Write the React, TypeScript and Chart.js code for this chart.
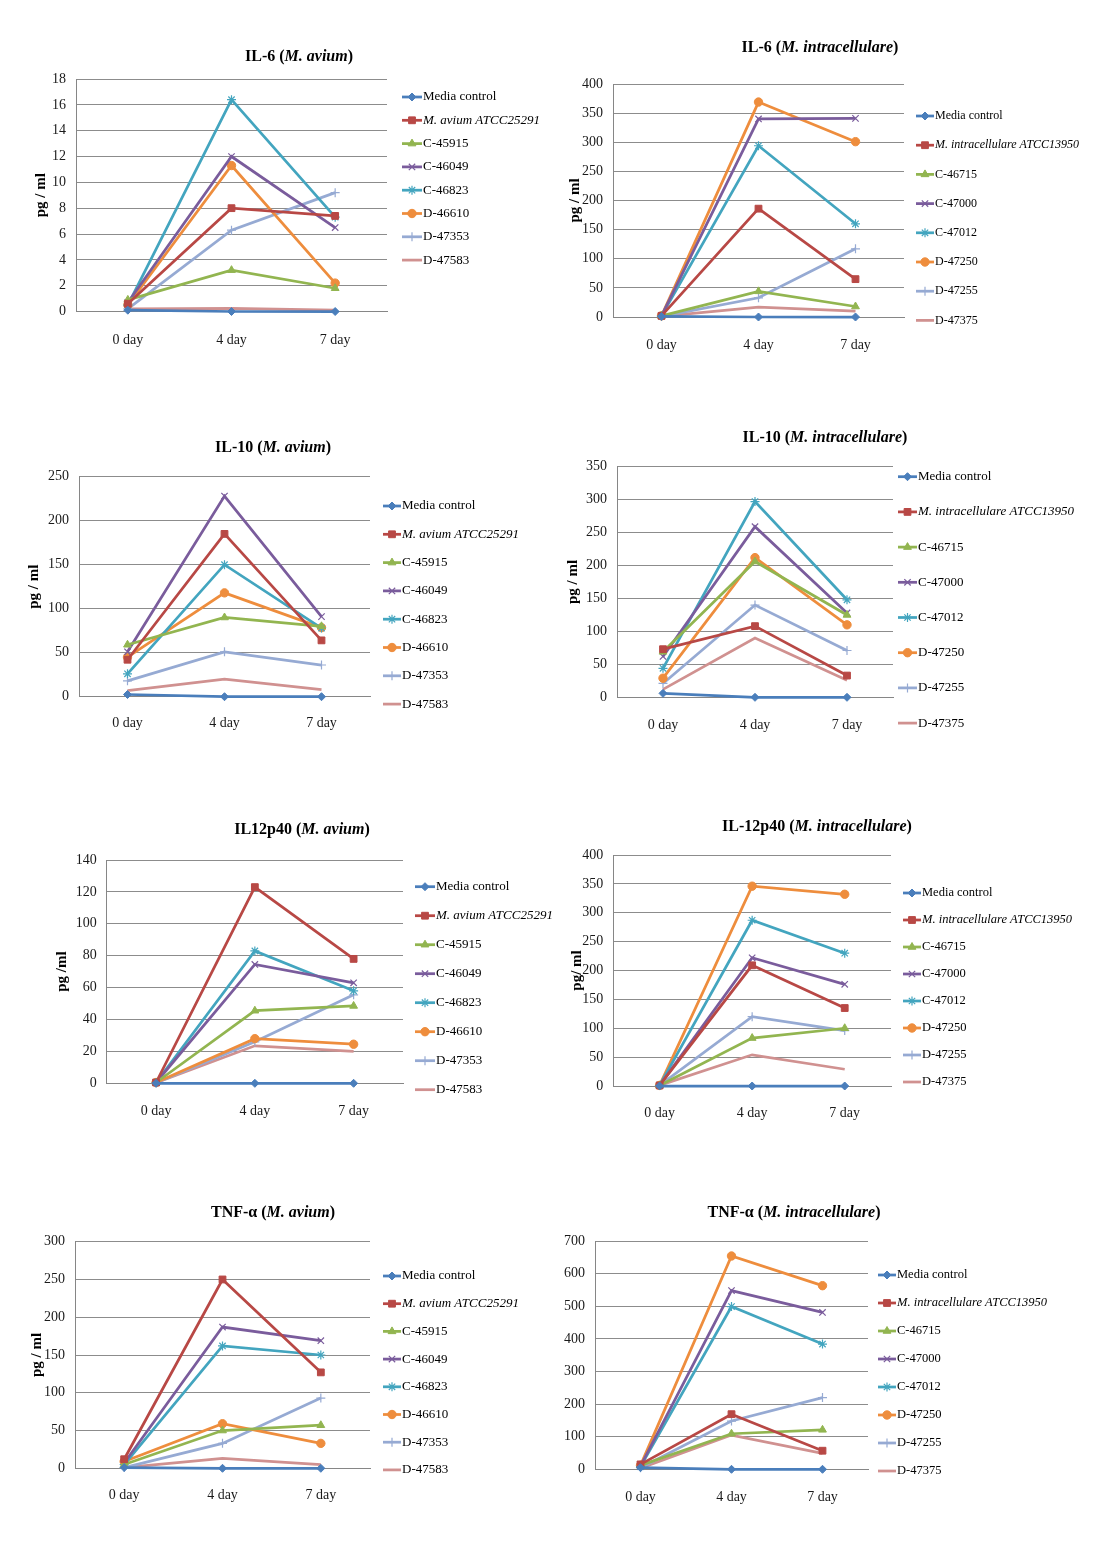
import React, { useEffect, useRef } from 'react';
import { Chart, registerables } from 'chart.js';
import { drawPoint } from 'chart.js/helpers';

Chart.register(...registerables);

// ---------------- data ----------------
const CATEGORIES = ['0 day', '4 day', '7 day'];

const AVIUM_STRAINS = ['Media control', 'M. avium ATCC25291', 'C-45915', 'C-46049', 'C-46823', 'D-46610', 'D-47353', 'D-47583'];
const INTRA_STRAINS = ['Media control', 'M. intracellulare ATCC13950', 'C-46715', 'C-47000', 'C-47012', 'D-47250', 'D-47255', 'D-47375'];

// rows: media, ATCC, C1, C2, C3, D1, D2, D3 ; columns: 0 day, 4 day, 7 day
const IL6_AVIUM = [
  [0.1, 0, 0],
  [0.6, 8.0, 7.4],
  [0.9, 3.2, 1.8],
  [0.7, 12.0, 6.5],
  [0.5, 16.4, 7.3],
  [0.5, 11.3, 2.2],
  [0.2, 6.3, 9.2],
  [0.2, 0.25, 0.1],
];
const IL6_INTRA = [
  [1, 0, 0],
  [2, 186, 65],
  [2, 44, 18],
  [2, 340, 341],
  [2, 294, 160],
  [2, 369, 301],
  [1, 33, 117],
  [1, 17, 10],
];
const IL10_AVIUM = [
  [2.5, 0, 0],
  [42, 185, 64],
  [59, 90, 80],
  [51, 228, 91],
  [26, 150, 78],
  [45, 118, 78.5],
  [18, 51, 36],
  [7, 20, 8],
];
const IL10_INTRA = [
  [6, 0, 0],
  [73, 108, 33],
  [69, 206, 125],
  [62, 259, 128],
  [44, 297, 148],
  [29, 212, 110],
  [21, 140, 71],
  [12, 90, 26],
];
const IL12_AVIUM = [
  [0, 0, 0],
  [0.5, 123, 78],
  [0.5, 45.5, 48.5],
  [0.5, 74.5, 63],
  [0.5, 83, 58],
  [0.5, 28, 24.5],
  [0.3, 26, 55.5],
  [0.3, 23.5, 20],
];
const IL12_INTRA = [
  [0, 0, 0],
  [1, 209, 135],
  [1, 83, 100],
  [1, 222, 176],
  [1, 287, 230],
  [1, 346, 332],
  [1, 120, 96],
  [1, 54, 29],
];
const TNF_AVIUM = [
  [1, 0, 0],
  [12, 250, 127],
  [5, 50, 57],
  [7, 187, 169],
  [5, 162, 150],
  [9, 59, 33],
  [1, 33, 93],
  [1, 13, 5],
];
const TNF_INTRA = [
  [5, 0, 0],
  [15, 169, 57],
  [12, 109, 121],
  [10, 548, 481],
  [8, 499, 384],
  [12, 654, 563],
  [5, 148, 220],
  [3, 105, 49],
];

// ---------------- styles ----------------
const SERIF = '"Liberation Serif", "Times New Roman", "DejaVu Serif", serif';
const COLORS = ['#4A7EBB', '#B84845', '#92B550', '#7A5C9C', '#43A5BF', '#EE8D3D', '#96AAD3', '#D09190'];
const MARKERS: any[] = ['rectRot', 'rect', 'triangle', 'crossRot', 'star', 'circle', 'cross', false];
const RADII = [4, 4.8, 4.5, 4.5, 4.5, 4.2, 4.5, 0];
const MARKER_BORDER = [1, 1, 1, 1.2, 1.2, 1, 1.2, 0];
const GRID = '#8C8C8C';
const AXIS = '#868686';
const TEXT = '#1a1a1a';

type PanelCfg = {
  data: number[][];
  strains: string[];
  title: string;
  org: string;
  yTitle: string;
  max: number;
  step: number;
  box: number[]; // canvas x, y, w, h (page coords)
  area: number[]; // plot left, top, right, bottom (page coords)
  labelY: number;
  titlePos: number[];
  yTitleX: number;
  legend: { mx: number; len: number; y0: number; dy: number; size: number };
};

const PANELS: PanelCfg[] = [
  {
    data: IL6_AVIUM, strains: AVIUM_STRAINS, title: 'IL-6', org: 'M. avium', yTitle: 'pg / ml',
    max: 18, step: 2, box: [0, 20, 560, 360], area: [76, 79, 387, 311.5], labelY: 340,
    titlePos: [299, 57], yTitleX: 41,
    legend: { mx: 402, len: 20, y0: 97, dy: 23.3, size: 13 },
  },
  {
    data: IL6_INTRA, strains: INTRA_STRAINS, title: 'IL-6', org: 'M. intracellulare', yTitle: 'pg / ml',
    max: 400, step: 50, box: [560, 20, 560, 360], area: [613, 84, 904, 317], labelY: 345,
    titlePos: [820, 48], yTitleX: 575,
    legend: { mx: 916, len: 18, y0: 116, dy: 29.2, size: 12 },
  },
  {
    data: IL10_AVIUM, strains: AVIUM_STRAINS, title: 'IL-10', org: 'M. avium', yTitle: 'pg / ml',
    max: 250, step: 50, box: [0, 400, 560, 360], area: [79, 476.7, 370, 696.7], labelY: 723,
    titlePos: [273, 448], yTitleX: 34,
    legend: { mx: 383, len: 18, y0: 506, dy: 28.3, size: 13 },
  },
  {
    data: IL10_INTRA, strains: INTRA_STRAINS, title: 'IL-10', org: 'M. intracellulare', yTitle: 'pg / ml',
    max: 350, step: 50, box: [560, 400, 560, 360], area: [617, 466.7, 893, 697.3], labelY: 725,
    titlePos: [825, 438], yTitleX: 573,
    legend: { mx: 898, len: 19, y0: 476.7, dy: 35.2, size: 13 },
  },
  {
    data: IL12_AVIUM, strains: AVIUM_STRAINS, title: 'IL12p40', org: 'M. avium', yTitle: 'pg /ml',
    max: 140, step: 20, box: [0, 790, 560, 350], area: [106.7, 860, 403, 1083.3], labelY: 1111,
    titlePos: [302, 830], yTitleX: 62,
    legend: { mx: 415, len: 20, y0: 886.7, dy: 29, size: 13 },
  },
  {
    data: IL12_INTRA, strains: INTRA_STRAINS, title: 'IL-12p40', org: 'M. intracellulare', yTitle: 'pg/ ml',
    max: 400, step: 50, box: [560, 790, 560, 350], area: [613.3, 855, 891, 1086], labelY: 1113,
    titlePos: [817, 827], yTitleX: 577,
    legend: { mx: 903, len: 18, y0: 893, dy: 27, size: 12.5 },
  },
  {
    data: TNF_AVIUM, strains: AVIUM_STRAINS, title: 'TNF-α', org: 'M. avium', yTitle: 'pg / ml',
    max: 300, step: 50, box: [0, 1180, 560, 360], area: [75, 1241.7, 370, 1468.3], labelY: 1495,
    titlePos: [273, 1213], yTitleX: 37,
    legend: { mx: 383, len: 18, y0: 1276, dy: 27.7, size: 13 },
  },
  {
    data: TNF_INTRA, strains: INTRA_STRAINS, title: 'TNF-α', org: 'M. intracellulare', yTitle: 'pg / ml',
    max: 700, step: 100, box: [560, 1180, 560, 360], area: [595, 1241, 868, 1469.3], labelY: 1497,
    titlePos: [794, 1213], yTitleX: 553,
    legend: { mx: 878, len: 18, y0: 1275, dy: 28, size: 12.5 },
  },
];

type Part = { t: string; i: boolean };

function drawRich(ctx: CanvasRenderingContext2D, parts: Part[], x: number, y: number, weight: string, size: number, align: 'left' | 'center') {
  const fontOf = (p: Part) => `${p.i ? 'italic ' : ''}${weight} ${size}px ${SERIF}`;
  let total = 0;
  const widths = parts.map((p) => {
    ctx.font = fontOf(p);
    const w = ctx.measureText(p.t).width;
    total += w;
    return w;
  });
  let cx = align === 'center' ? x - total / 2 : x;
  ctx.textAlign = 'left';
  ctx.textBaseline = 'middle';
  ctx.fillStyle = '#000';
  parts.forEach((p, k) => {
    ctx.font = fontOf(p);
    ctx.fillText(p.t, cx, y);
    cx += widths[k];
  });
}

function decoPlugin(cfg: PanelCfg) {
  return {
    id: 'deco',
    afterDraw(chart: any) {
      const ctx: CanvasRenderingContext2D = chart.ctx;
      const [cx, cy] = cfg.box;
      const [, T, , B] = cfg.area;
      ctx.save();
      ctx.translate(-cx, -cy);

      // title
      drawRich(
        ctx,
        [
          { t: cfg.title + ' (', i: false },
          { t: cfg.org, i: true },
          { t: ')', i: false },
        ],
        cfg.titlePos[0], cfg.titlePos[1], 'bold', 16, 'center'
      );

      // y axis title
      ctx.save();
      ctx.translate(cfg.yTitleX, (T + B) / 2);
      ctx.rotate(-Math.PI / 2);
      ctx.font = `bold 15px ${SERIF}`;
      ctx.textAlign = 'center';
      ctx.textBaseline = 'middle';
      ctx.fillStyle = '#000';
      ctx.fillText(cfg.yTitle, 0, 0);
      ctx.restore();

      // legend
      const lg = cfg.legend;
      chart.data.datasets.forEach((ds: any, i: number) => {
        const y = lg.y0 + i * lg.dy;
        ctx.save();
        ctx.strokeStyle = ds.borderColor;
        ctx.lineWidth = 2.75;
        ctx.beginPath();
        ctx.moveTo(lg.mx, y);
        ctx.lineTo(lg.mx + lg.len, y);
        ctx.stroke();
        if (MARKERS[i]) {
          ctx.fillStyle = ds.borderColor;
          ctx.strokeStyle = ds.borderColor;
          ctx.lineWidth = MARKER_BORDER[i];
          drawPoint(ctx, { pointStyle: MARKERS[i], rotation: 0, radius: RADII[i], borderWidth: MARKER_BORDER[i] } as any, lg.mx + lg.len / 2, y);
        }
        ctx.restore();
        drawRich(ctx, [{ t: cfg.strains[i], i: i === 1 }], lg.mx + lg.len + 1, y, 'normal', lg.size, 'left');
      });

      ctx.restore();
    },
  };
}

function Panel({ cfg }: { cfg: PanelCfg }) {
  const ref = useRef<HTMLCanvasElement>(null);
  const [cx, cy, W, H] = cfg.box;
  useEffect(() => {
    const [L, T, R, B] = cfg.area;
    const chart = new Chart(ref.current as HTMLCanvasElement, {
      type: 'line',
      data: {
        labels: CATEGORIES,
        datasets: cfg.data.map((vals, i) => ({
          label: cfg.strains[i],
          data: vals,
          borderColor: COLORS[i],
          backgroundColor: COLORS[i],
          pointBackgroundColor: COLORS[i],
          pointBorderColor: COLORS[i],
          pointStyle: MARKERS[i],
          pointRadius: RADII[i],
          pointBorderWidth: MARKER_BORDER[i],
          borderWidth: 2.75,
          tension: 0,
          fill: false,
          clip: false as any,
        })),
      },
      options: {
        animation: false,
        responsive: false,
        maintainAspectRatio: false,
        devicePixelRatio: 1,
        events: [],
        layout: { padding: { left: 0, top: T - cy, right: cx + W - R, bottom: 0 } },
        plugins: {
          legend: { display: false },
          title: { display: false },
          tooltip: { enabled: false },
        },
        scales: {
          x: {
            type: 'category',
            offset: true,
            grid: { display: false, drawTicks: false },
            border: { display: true, color: AXIS, width: 1 },
            ticks: {
              padding: cfg.labelY - B - 8.4,
              font: { family: SERIF, size: 14 },
              color: TEXT,
              maxRotation: 0,
              autoSkip: false,
            },
            afterFit: (s: any) => {
              s.height = cy + H - B;
            },
          },
          y: {
            type: 'linear',
            min: 0,
            max: cfg.max,
            ticks: {
              stepSize: cfg.step,
              padding: 10,
              font: { family: SERIF, size: 14 },
              color: TEXT,
            },
            grid: { color: GRID, lineWidth: 1, drawTicks: false },
            border: { display: true, color: AXIS, width: 1 },
            afterFit: (s: any) => {
              s.width = L - cx;
            },
          },
        },
      },
      plugins: [decoPlugin(cfg)],
    } as any);
    return () => chart.destroy();
  }, []);
  return (
    <canvas
      ref={ref}
      width={W}
      height={H}
      style={{ position: 'absolute', left: cx, top: cy, width: W, height: H }}
    />
  );
}

export default function App() {
  return (
    <div style={{ position: 'absolute', left: 0, top: 0, width: 1120, height: 1552, background: '#fff', overflow: 'hidden' }}>
      {PANELS.map((p, k) => (
        <Panel key={k} cfg={p} />
      ))}
    </div>
  );
}
